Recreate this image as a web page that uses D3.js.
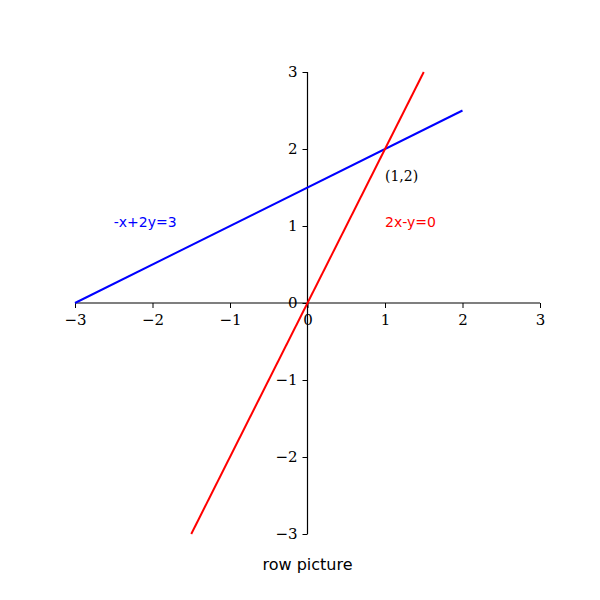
<!DOCTYPE html>
<html><head><meta charset="utf-8">
<script src="https://cdn.jsdelivr.net/npm/d3@7"></script>
<style>body{margin:0;background:#fff}</style>
</head><body>
<svg id="c" width="600" height="600"></svg>
<script>
const xTicks = [-3,-2,-1,0,1,2,3];
const yTicks = [-3,-2,-1,0,1,2,3];
const blueLine = [[-3,0],[2,2.5]];   // -x+2y=3
const redLine = [[-1.5,-3],[1.5,3]]; // 2x-y=0
const labels = [
  {text:"-x+2y=3", x:-2.5, y:1, color:"#0000ff", font:"DejaVu Sans"},
  {text:"2x-y=0", x:1, y:1, color:"#ff0000", font:"DejaVu Sans"},
  {text:"(1,2)", x:1, y:1.6, color:"#000", font:"DejaVu Serif"}
];
const title = "row picture";

const svg = d3.select("#c");
const x = d3.scaleLinear().domain([-3,3]).range([75,540]);
const y = d3.scaleLinear().domain([-3,3]).range([534,72]);

const xAxis = d3.axisBottom(x).tickValues(xTicks).tickSize(5).tickPadding(6)
  .tickFormat(d => d < 0 ? "\u2212" + Math.abs(d) : d);
const yAxis = d3.axisLeft(y).tickValues(yTicks).tickSize(5).tickPadding(5)
  .tickFormat(d => d < 0 ? "\u2212" + Math.abs(d) : d);

const gx = svg.append("g").attr("transform", `translate(0,${y(0)})`).call(xAxis);
const gy = svg.append("g").attr("transform", `translate(${x(0)},0)`).call(yAxis);
[gx, gy].forEach(g => {
  g.select(".domain").attr("stroke","#000").attr("stroke-width",1.2);
  g.selectAll(".tick line").attr("stroke","#000").attr("stroke-width",1);
  g.selectAll(".tick text").attr("font-family","DejaVu Serif").attr("font-size",15).attr("fill","#000");
});
gx.selectAll(".domain").attr("d", `M${x(-3)},0H${x(3)}`);
gy.selectAll(".domain").attr("d", `M0,${y(-3)}V${y(3)}`);

const line = d3.line().x(d => x(d[0])).y(d => y(d[1]));
svg.append("path").datum(blueLine).attr("d", line).attr("stroke","#0000ff").attr("stroke-width",2).attr("fill","none");
svg.append("path").datum(redLine).attr("d", line).attr("stroke","#ff0000").attr("stroke-width",2).attr("fill","none");

svg.selectAll("text.lab").data(labels).enter().append("text")
  .attr("x", d => x(d.x)).attr("y", d => y(d.y) + 1)
  .attr("fill", d => d.color).attr("font-family", d => d.font).attr("font-size", 14)
  .text(d => d.text);

svg.append("text").attr("x", x(0)).attr("y", 570).attr("text-anchor","middle")
  .attr("font-family","DejaVu Sans").attr("font-size",16).attr("fill","#000").text(title);
</script>
</body></html>
